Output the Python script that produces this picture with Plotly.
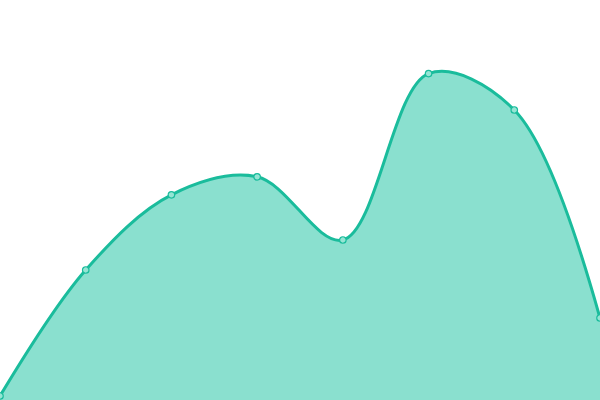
import plotly.graph_objects as go

# --- DATA ---
x_vals = [0, 1, 2, 3, 4, 5, 6, 7]
y_vals = [1, 32.5, 51.3, 55.8, 40, 81.6, 72.5, 20.5]

LINE_COLOR = "#1abc9c"
FILL_COLOR = "#8ae0cf"
MARKER_FILL = "#95e5d4"

fig = go.Figure()
fig.add_trace(go.Scatter(
    x=x_vals, y=y_vals,
    mode="lines+markers",
    line=dict(color=LINE_COLOR, width=3, shape="spline", smoothing=1),
    fill="tozeroy", fillcolor=FILL_COLOR,
    marker=dict(size=6.5, color=MARKER_FILL, line=dict(color=LINE_COLOR, width=1.2)),
    hoverinfo="skip",
))

fig.update_layout(
    width=600, height=400,
    margin=dict(l=0, r=0, t=0, b=0),
    paper_bgcolor="white", plot_bgcolor="white",
    showlegend=False,
    xaxis=dict(range=[0, 7], visible=False, fixedrange=True),
    yaxis=dict(range=[0, 100], visible=False, fixedrange=True),
)

# page body has a default 8px margin, drop it so the chart fills the window
fig.write_html("out.html", config={"displayModeBar": False},
               post_script="document.body.style.margin='0';document.body.style.overflow='hidden';")
